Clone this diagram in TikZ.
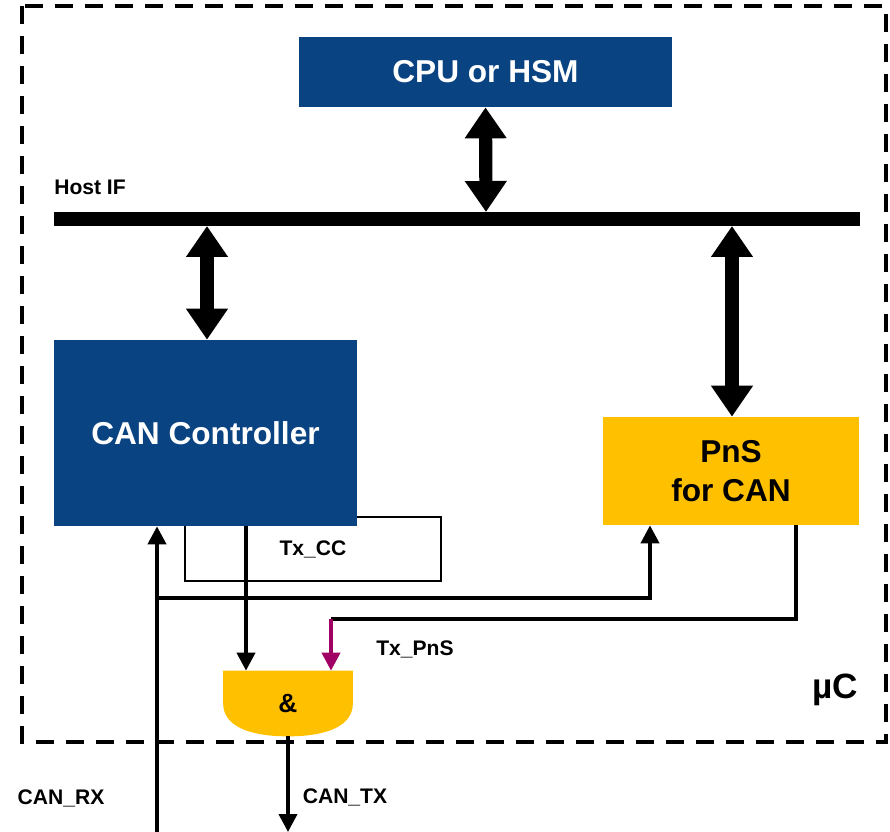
\documentclass[tikz,border=0pt]{standalone}
\usepackage{fontspec}
\setmainfont{Liberation Sans}
\usetikzlibrary{arrows.meta,backgrounds}
\definecolor{canblue}{RGB}{10,67,130}
\definecolor{pnsyellow}{RGB}{255,192,0}
\definecolor{txmagenta}{RGB}{160,0,100}

\begin{document}
\begin{tikzpicture}[x=0.02cm, y=-0.02cm,
  block/.style={rectangle, inner sep=0pt, font=\fontsize{18}{22}\selectfont\bfseries, align=center},
  blueblock/.style={block, fill=canblue, text=white},
  yellowblock/.style={block, fill=pnsyellow, text=black},
  tag/.style={inner sep=0pt, font=\fontsize{12}{14}\selectfont\bfseries},
  busarrow/.style={line width=7.5pt, {Triangle[width=0.8cm,length=0.62cm]}-{Triangle[width=0.8cm,length=0.62cm]}},
  wire/.style={line width=2.2pt},
  sig/.style={wire, -{Triangle[width=0.36cm,length=0.36cm]}}]
\useasboundingbox (0,0) rectangle (890,832);
% uC border
\draw[line width=2.4pt, dash pattern=on 0.36cm off 0.24cm] (22,6) rectangle (886,742);
\node (MuC) [tag, font=\fontsize{20}{24}\selectfont\bfseries] at (835,690) {µC};

% host bus
\coordinate (BusL) at (54,219);
\coordinate (BusR) at (860,219);
\draw[line width=8pt] (BusL) -- (BusR);
\node (HostIF) [tag] at (90,187) {Host IF};

% blocks
\node (CPU) [blueblock, minimum width=7.46cm, minimum height=1.4cm] at (485.5,72) {CPU or HSM};
\node (TxCC) [draw, line width=1.1pt, inner sep=0pt, minimum width=5.12cm, minimum height=1.28cm,
  font=\fontsize{12}{14}\selectfont\bfseries] at (313,549) {Tx\_CC};
\node (CAN) [blueblock, minimum width=6.06cm, minimum height=3.72cm] at (205.5,433) {CAN Controller};
\node (PnS) [yellowblock, minimum width=5.12cm, minimum height=2.16cm] at (731,471) {PnS\\for CAN};
\node (AND) [inner sep=0pt, minimum width=2.58cm, minimum height=1.3cm, font=\fontsize{15}{17}\selectfont\bfseries] at (288,703.5) {\&};
\begin{scope}[on background layer]
  \fill[pnsyellow] (AND.north west) -- (AND.north east) -- (AND.east)
    .. controls +(0,22) and +(40,0) .. (AND.south)
    .. controls +(-40,0) and +(0,22) .. (AND.west) -- cycle;
\end{scope}

% bus connections
\draw[busarrow] (CPU.south) -- (486,212);
\draw[busarrow] (207,226) -- (207,0 |- CAN.north);
\draw[busarrow] (732,226) -- (732,0 |- PnS.north);

% signals
\coordinate (RXin) at (157,832);
\coordinate (RXbranch) at (157,598);
\coordinate (PnSturn) at (331,619);
\coordinate (TXout) at (288,832);
\draw[sig] (RXin) -- (RXin |- CAN.south);
\draw[sig] (RXbranch) -| (650,0 |- PnS.south);
\draw[sig] (246,0 |- CAN.south) -- (246,0 |- AND.north);
\draw[wire] (796,0 |- PnS.south) |- (PnSturn);
\draw[sig, txmagenta] (PnSturn) -- (PnSturn |- AND.north);
\draw[sig] (AND.south) -- (TXout);

\node (TxPnS) [tag] at (415,649) {Tx\_PnS};
\node (CANRX) [tag] at (61,798) {CAN\_RX};
\node (CANTX) [tag] at (345,797) {CAN\_TX};
\end{tikzpicture}
\end{document}
